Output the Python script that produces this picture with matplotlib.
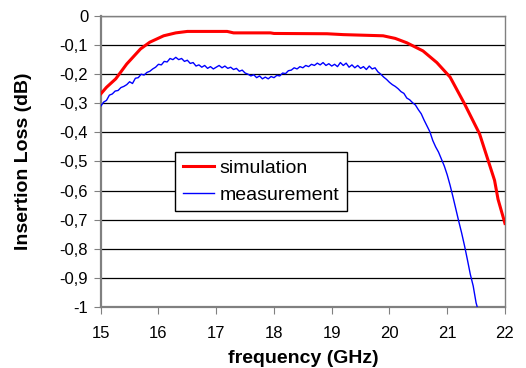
import matplotlib
matplotlib.use("Agg")
import matplotlib.pyplot as plt

plt.rcParams['font.family'] = ['Liberation Sans', 'DejaVu Sans']

# simulated insertion loss (red)
sim_freq = [15.0, 15.1, 15.26, 15.45, 15.69, 15.85, 16.09, 16.3, 16.5, 17.19, 17.3,
            17.94, 18.0, 18.92, 19.2, 19.89, 20.1, 20.3, 20.58, 20.82, 21.05, 21.3,
            21.56, 21.82, 21.88, 22.0]
sim_loss = [-0.268, -0.245, -0.216, -0.165, -0.113, -0.09, -0.068, -0.058, -0.053, -0.053, -0.058,
            -0.058, -0.06, -0.061, -0.064, -0.068, -0.077, -0.092, -0.12, -0.16, -0.21, -0.302,
            -0.405, -0.565, -0.63, -0.713]

meas_freq = [15.00, 15.05, 15.10, 15.15, 15.20, 15.25, 15.30, 15.35, 15.40, 15.45,
             15.50, 15.55, 15.60, 15.65, 15.70, 15.75, 15.80, 15.85, 15.90, 15.95,
             16.00, 16.05, 16.10, 16.15, 16.20, 16.25, 16.30, 16.35, 16.40, 16.45,
             16.50, 16.55, 16.60, 16.65, 16.70, 16.75, 16.80, 16.85, 16.90, 16.95,
             17.00, 17.05, 17.10, 17.15, 17.20, 17.25, 17.30, 17.35, 17.40, 17.45,
             17.50, 17.55, 17.60, 17.65, 17.70, 17.75, 17.80, 17.85, 17.90, 17.95,
             18.00, 18.05, 18.10, 18.15, 18.20, 18.25, 18.30, 18.35, 18.40, 18.45,
             18.50, 18.55, 18.60, 18.65, 18.70, 18.75, 18.80, 18.85, 18.90, 18.95,
             19.00, 19.05, 19.10, 19.15, 19.20, 19.25, 19.30, 19.35, 19.40, 19.45,
             19.50, 19.55, 19.60, 19.65, 19.70, 19.75, 19.80, 19.85, 19.90, 19.95,
             20.00, 20.05, 20.10, 20.15, 20.20, 20.25, 20.30, 20.35, 20.40, 20.45,
             20.50, 20.55, 20.60, 20.65, 20.70, 20.75, 20.80, 20.85, 20.90, 20.95,
             21.00, 21.05, 21.10, 21.15, 21.20, 21.25, 21.30, 21.35, 21.40, 21.45,
             21.50, 21.52]
meas_loss = [-0.310, -0.296, -0.290, -0.272, -0.268, -0.258, -0.256, -0.246, -0.242, -0.236,
             -0.226, -0.232, -0.214, -0.212, -0.200, -0.203, -0.194, -0.190, -0.182, -0.176,
             -0.166, -0.168, -0.156, -0.158, -0.146, -0.150, -0.142, -0.150, -0.146, -0.156,
             -0.152, -0.163, -0.160, -0.172, -0.168, -0.176, -0.170, -0.180, -0.174, -0.182,
             -0.176, -0.170, -0.178, -0.172, -0.180, -0.176, -0.184, -0.180, -0.190, -0.186,
             -0.196, -0.200, -0.206, -0.202, -0.212, -0.206, -0.216, -0.210, -0.216, -0.208,
             -0.212, -0.204, -0.206, -0.196, -0.198, -0.188, -0.186, -0.178, -0.182, -0.174,
             -0.178, -0.170, -0.174, -0.166, -0.170, -0.162, -0.168, -0.160, -0.170, -0.164,
             -0.172, -0.166, -0.174, -0.160, -0.170, -0.162, -0.176, -0.168, -0.178, -0.170,
             -0.180, -0.174, -0.184, -0.172, -0.182, -0.178, -0.192, -0.200, -0.210, -0.218,
             -0.228, -0.236, -0.242, -0.250, -0.260, -0.266, -0.282, -0.288, -0.298, -0.306,
             -0.322, -0.336, -0.358, -0.378, -0.398, -0.428, -0.450, -0.468, -0.492, -0.516,
             -0.546, -0.582, -0.622, -0.664, -0.706, -0.746, -0.790, -0.838, -0.888, -0.928,
             -0.986, -1.0]

x_ticks = [15, 16, 17, 18, 19, 20, 21, 22]
y_ticks = [0, -0.1, -0.2, -0.3, -0.4, -0.5, -0.6, -0.7, -0.8, -0.9, -1]
y_labels = ['0', '-0,1', '-0,2', '-0,3', '-0,4', '-0,5', '-0,6', '-0,7', '-0,8', '-0,9', '-1']

fig = plt.figure(figsize=(5.26, 3.68), dpi=100)
ax = fig.add_axes([0.1915, 0.166, 0.7685, 0.7905])

ax.plot(sim_freq, sim_loss, color='#ff0000', lw=2.2, label='simulation', zorder=3)
ax.plot(meas_freq, meas_loss, color='#0000ff', lw=1.0, label='measurement', zorder=3)

ax.set_xlim(15, 22)
ax.set_ylim(-1, 0)
ax.set_xticks(x_ticks)
ax.set_yticks(y_ticks)
ax.set_yticklabels(y_labels)
ax.tick_params(labelsize=12, direction='out', length=5, color='#808080')
ax.tick_params(axis='x', pad=9)
ax.tick_params(axis='y', pad=4)
ax.grid(axis='y', color='black', lw=0.9)
ax.set_axisbelow(True)

for s in ax.spines.values():
    s.set_color('#808080')
    s.set_linewidth(1.0)
ax.spines['left'].set_linewidth(1.6)
ax.spines['bottom'].set_linewidth(1.6)

ax.set_xlabel('frequency (GHz)', fontsize=14, fontweight='bold', labelpad=6)
ax.set_ylabel('Insertion Loss (dB)', fontsize=14, fontweight='bold', labelpad=20)

leg = ax.legend(loc='upper left', bbox_to_anchor=(0.184, 0.533), borderaxespad=0,
                fancybox=False, framealpha=1, edgecolor='black', fontsize=14,
                handlelength=1.6, handletextpad=0.3, borderpad=0.4, labelspacing=0.45)
leg.get_frame().set_linewidth(1.0)

fig.savefig('out.png', dpi=100)
